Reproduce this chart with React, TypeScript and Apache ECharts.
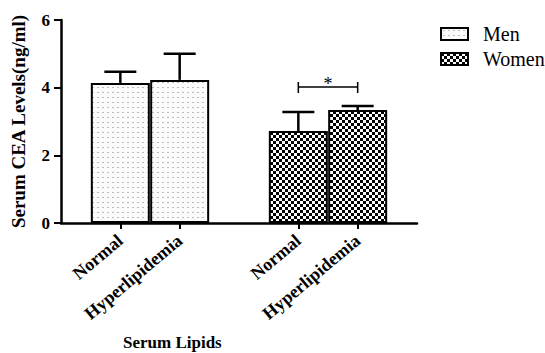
import React, { useEffect, useRef } from "react";
import * as echarts from "echarts";

const categories = ["", "Normal", "Hyperlipidemia", "", "Normal", "Hyperlipidemia", ""];
const menMean = [null, 4.14, 4.23, null, null, null, null];
const menSD = [null, 0.33, 0.77, null, null, null, null];
const womenMean = [null, null, null, null, 2.72, 3.34, null];
const womenSD = [null, null, null, null, 0.56, 0.12, null];
const sigFrom = 4;
const sigTo = 5;
const sigLevel = 4.02;
const sigMark = "*";
const yTicks = { min: 0, max: 6, interval: 2 };

const FONT = "'Liberation Serif', 'DejaVu Serif', serif";

function makeDots(): HTMLCanvasElement {
  const c = document.createElement("canvas");
  c.width = 5;
  c.height = 5;
  const ctx = c.getContext("2d")!;
  ctx.fillStyle = "#fbfbfb";
  ctx.fillRect(0, 0, 5, 5);
  ctx.fillStyle = "#bcbcbc";
  ctx.fillRect(2, 2, 2, 1);
  return c;
}

function makeChecker(): HTMLCanvasElement {
  const c = document.createElement("canvas");
  c.width = 6;
  c.height = 6;
  const ctx = c.getContext("2d")!;
  ctx.fillStyle = "#ffffff";
  ctx.fillRect(0, 0, 6, 6);
  ctx.fillStyle = "#000000";
  ctx.fillRect(0, 0, 3, 3);
  ctx.fillRect(3, 3, 3, 3);
  return c;
}

export default function App() {
  const ref = useRef<HTMLDivElement>(null);

  useEffect(() => {
    document.body.style.margin = "0";
    const chart = echarts.init(ref.current!, null, { renderer: "svg" });

    const errData: any[] = [];
    categories.forEach((_, i) => {
      if (menMean[i] != null) errData.push([i, menMean[i], (menMean[i] as number) + (menSD[i] as number)]);
      if (womenMean[i] != null) errData.push([i, womenMean[i], (womenMean[i] as number) + (womenSD[i] as number)]);
    });

    const menFill = { image: makeDots(), repeat: "repeat" };
    const womenFill = { image: makeChecker(), repeat: "repeat" };

    chart.setOption({
      animation: false,
      title: {
        text: "Serum Lipids",
        left: 123,
        top: 334,
        padding: 0,
        textStyle: { fontFamily: FONT, fontSize: 17, fontWeight: "bold", color: "#000" },
      },
      legend: {
        data: ["Men", "Women"],
        orient: "vertical",
        left: 440,
        top: 24,
        padding: 0,
        icon: "rect",
        itemWidth: 27,
        itemHeight: 12,
        itemGap: 5,
        textStyle: { fontFamily: FONT, fontSize: 20, color: "#000", padding: [0, 0, 0, 10] },
      },
      grid: { left: 61, right: 128, top: 20, bottom: 130, containLabel: false },
      xAxis: {
        type: "category",
        data: categories,
        boundaryGap: false,
        axisLine: { lineStyle: { color: "#000", width: 2.5 } },
        axisTick: {
          interval: (i: number) => categories[i] !== "",
          length: 6,
          lineStyle: { color: "#000", width: 2 },
        },
        axisLabel: {
          interval: 0,
          rotate: 40,
          margin: 15,
          fontFamily: FONT,
          fontSize: 18,
          fontWeight: "bold",
          color: "#000",
        },
        splitLine: { show: false },
      },
      yAxis: {
        type: "value",
        min: yTicks.min,
        max: yTicks.max,
        interval: yTicks.interval,
        name: "Serum CEA Levels(ng/ml)",
        nameLocation: "middle",
        nameGap: 33,
        nameTextStyle: { fontFamily: FONT, fontSize: 19, fontWeight: "bold", color: "#000" },
        axisLine: { show: true, lineStyle: { color: "#000", width: 2.5 } },
        axisTick: { show: true, length: 7, lineStyle: { color: "#000", width: 2 } },
        axisLabel: { margin: 11, fontFamily: FONT, fontSize: 17, fontWeight: "bold", color: "#000" },
        splitLine: { show: false },
      },
      series: [
        {
          name: "Men",
          type: "bar",
          data: menMean,
          barWidth: 59,
          barGap: "-100%",
          itemStyle: { color: menFill, borderColor: "#000", borderWidth: 2 },
        },
        {
          name: "Women",
          type: "bar",
          data: womenMean,
          barWidth: 59,
          barGap: "-100%",
          itemStyle: { color: womenFill, borderColor: "#000", borderWidth: 2 },
        },
        {
          name: "err",
          type: "custom",
          data: errData,
          z: 5,
          renderItem: (params: any, api: any) => {
            const x = api.value(0);
            const p0 = api.coord([x, api.value(1)]);
            const p1 = api.coord([x, api.value(2)]);
            const half = 16;
            const style = { stroke: "#000", lineWidth: 2.5 };
            return {
              type: "group",
              children: [
                { type: "line", shape: { x1: p0[0], y1: p0[1], x2: p1[0], y2: p1[1] }, style },
                { type: "line", shape: { x1: p1[0] - half, y1: p1[1], x2: p1[0] + half, y2: p1[1] }, style },
              ],
            };
          },
        },
        {
          name: "sig",
          type: "custom",
          data: [[sigFrom, sigLevel, sigTo]],
          z: 5,
          renderItem: (params: any, api: any) => {
            const a = api.coord([api.value(0), api.value(1)]);
            const b = api.coord([api.value(2), api.value(1)]);
            const style = { stroke: "#000", lineWidth: 1.5 };
            return {
              type: "group",
              children: [
                { type: "line", shape: { x1: a[0], y1: a[1], x2: b[0], y2: b[1] }, style },
                { type: "line", shape: { x1: a[0], y1: a[1] - 5, x2: a[0], y2: a[1] + 6 }, style },
                { type: "line", shape: { x1: b[0], y1: b[1] - 5, x2: b[0], y2: b[1] + 6 }, style },
                {
                  type: "text",
                  x: (a[0] + b[0]) / 2,
                  y: a[1] - 3,
                  style: {
                    text: sigMark,
                    fontFamily: FONT,
                    fontSize: 18,
                    fill: "#000",
                    align: "center",
                    verticalAlign: "middle",
                  },
                },
              ],
            };
          },
        },
      ],
    });

    return () => chart.dispose();
  }, []);

  return <div ref={ref} style={{ width: 545, height: 353 }} />;
}
